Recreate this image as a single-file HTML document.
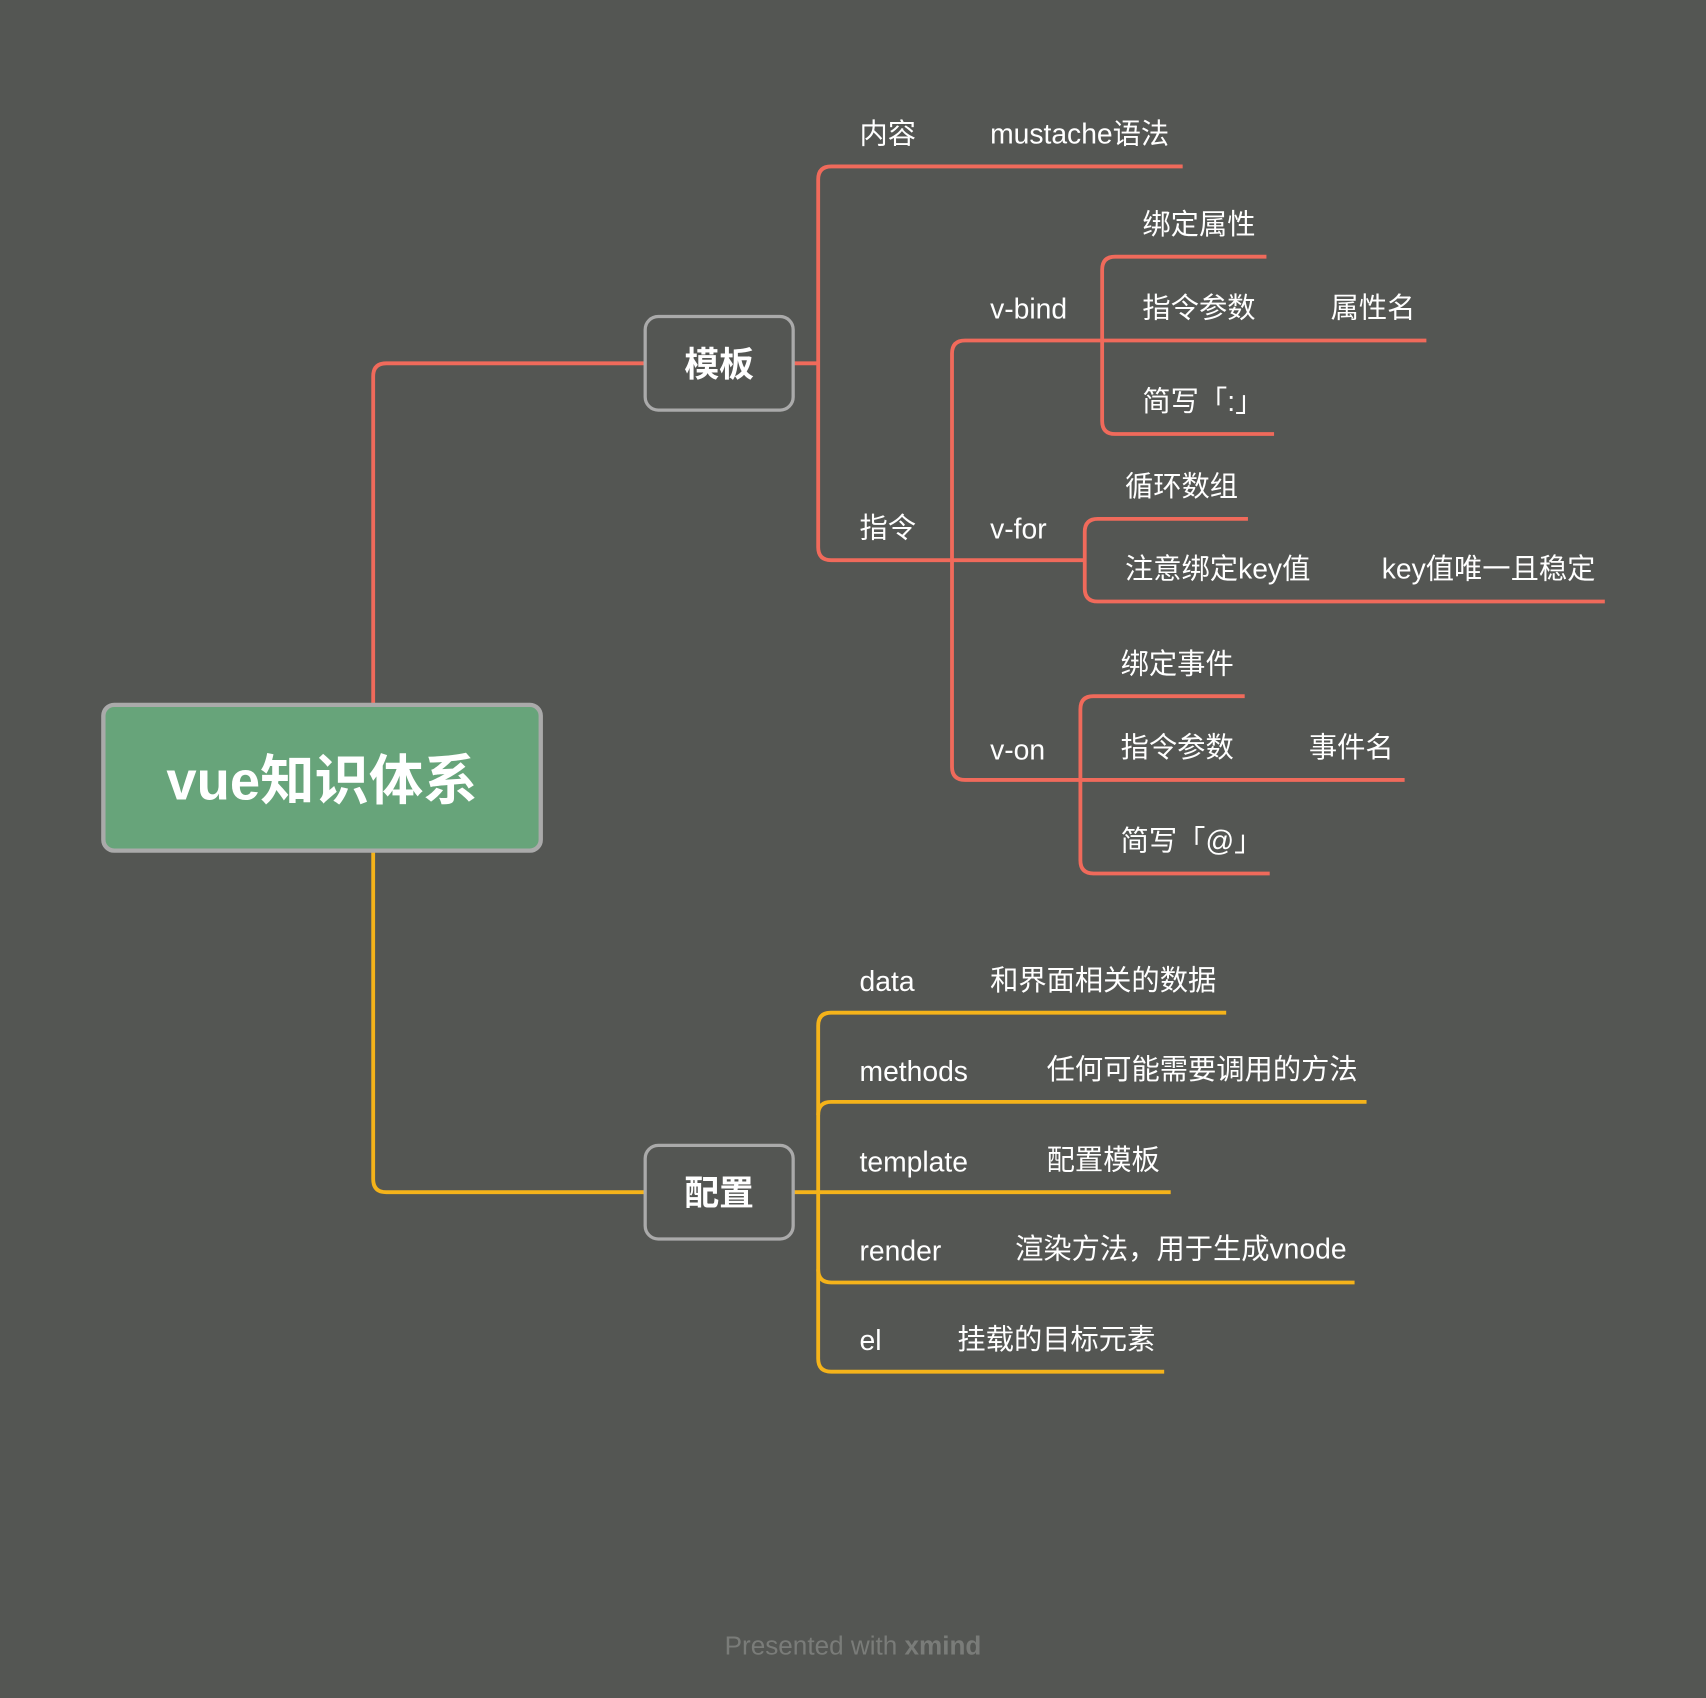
<!DOCTYPE html>
<html><head><meta charset="utf-8"><style>
html,body{margin:0;padding:0;background:#545653;}
svg{display:block}
text{font-family:"Liberation Sans","Noto Sans CJK SC",sans-serif;fill:#fff;font-size:26px;}
</style></head><body>
<svg width="1706" height="1698" viewBox="0 0 1568 1561" preserveAspectRatio="none">
<rect width="1568" height="1561" fill="#545653"/>
<g fill="none" stroke="#f06a5b" stroke-width="3.5">
<path d="M343 648 V346 Q343 334 355 334 H593"/>
<path d="M729 334 H752"/>
<path d="M1087 153 H764 Q752 153 752 165 V503 Q752 515 764 515 H875"/>
<path d="M875 515 H997"/>
<path d="M1013 313 H887 Q875 313 875 325 V705 Q875 717 887 717 H993"/>
<path d="M1013 313 H1311"/>
<path d="M1164 236 H1025 Q1013 236 1013 248 V387 Q1013 399 1025 399 H1171"/>
<path d="M1147 477 H1009 Q997 477 997 489 V541 Q997 553 1009 553 H1475"/>
<path d="M1144 640 H1005 Q993 640 993 652 V791 Q993 803 1005 803 H1167"/>
<path d="M993 717 H1291"/>
</g>
<g fill="none" stroke="#f5b31a" stroke-width="3.5">
<path d="M343 782 V1084 Q343 1096 355 1096 H593"/>
<path d="M729 1096 H1076"/>
<path d="M1127 931 H764 Q752 931 752 943 V1249 Q752 1261 764 1261 H1070"/>
<path d="M1256 1013 H764 Q752 1013 752 1025"/>
<path d="M1245 1179 H764 Q752 1179 752 1167"/>
</g>
<rect x="95" y="648" width="402" height="134" rx="10" fill="#67a47a" stroke="#aaaaaa" stroke-width="4"/>
<text x="296" y="735" text-anchor="middle" style="font-size:50px;font-weight:bold">vue知识体系</text>
<rect x="593" y="291" width="136" height="86" rx="12" fill="#545653" stroke="#aaaaaa" stroke-width="3"/>
<text x="661" y="346" text-anchor="middle" style="font-size:32px;font-weight:bold">模板</text>
<rect x="593" y="1053" width="136" height="86" rx="12" fill="#545653" stroke="#aaaaaa" stroke-width="3"/>
<text x="661" y="1108" text-anchor="middle" style="font-size:32px;font-weight:bold">配置</text>
<text x="790" y="132">内容</text>
<text x="910" y="132">mustache语法</text>
<text x="790" y="494">指令</text>
<text x="910" y="293">v-bind</text>
<text x="1050" y="215">绑定属性</text>
<text x="1050" y="292">指令参数</text>
<text x="1223" y="292">属性名</text>
<text x="1050" y="378">简写「:」</text>
<text x="910" y="495">v-for</text>
<text x="1034" y="456">循环数组</text>
<text x="1034" y="532">注意绑定key值</text>
<text x="1270" y="532">key值唯一且稳定</text>
<text x="910" y="698">v-on</text>
<text x="1030" y="619">绑定事件</text>
<text x="1030" y="696">指令参数</text>
<text x="1203" y="696">事件名</text>
<text x="1030" y="782">简写「@」</text>
<text x="790" y="911">data</text>
<text x="910" y="910">和界面相关的数据</text>
<text x="790" y="994">methods</text>
<text x="962" y="992">任何可能需要调用的方法</text>
<text x="790" y="1077">template</text>
<text x="962" y="1075">配置模板</text>
<text x="790" y="1159">render</text>
<text x="933" y="1157">渲染方法，用于生成vnode</text>
<text x="790" y="1241">el</text>
<text x="880" y="1240">挂载的目标元素</text>
<text x="784" y="1521" text-anchor="middle" style="font-size:24px;fill:#7a7c79">Presented with <tspan style="font-weight:bold;fill:#7a7c79">xmind</tspan></text>
</svg>
</body></html>
